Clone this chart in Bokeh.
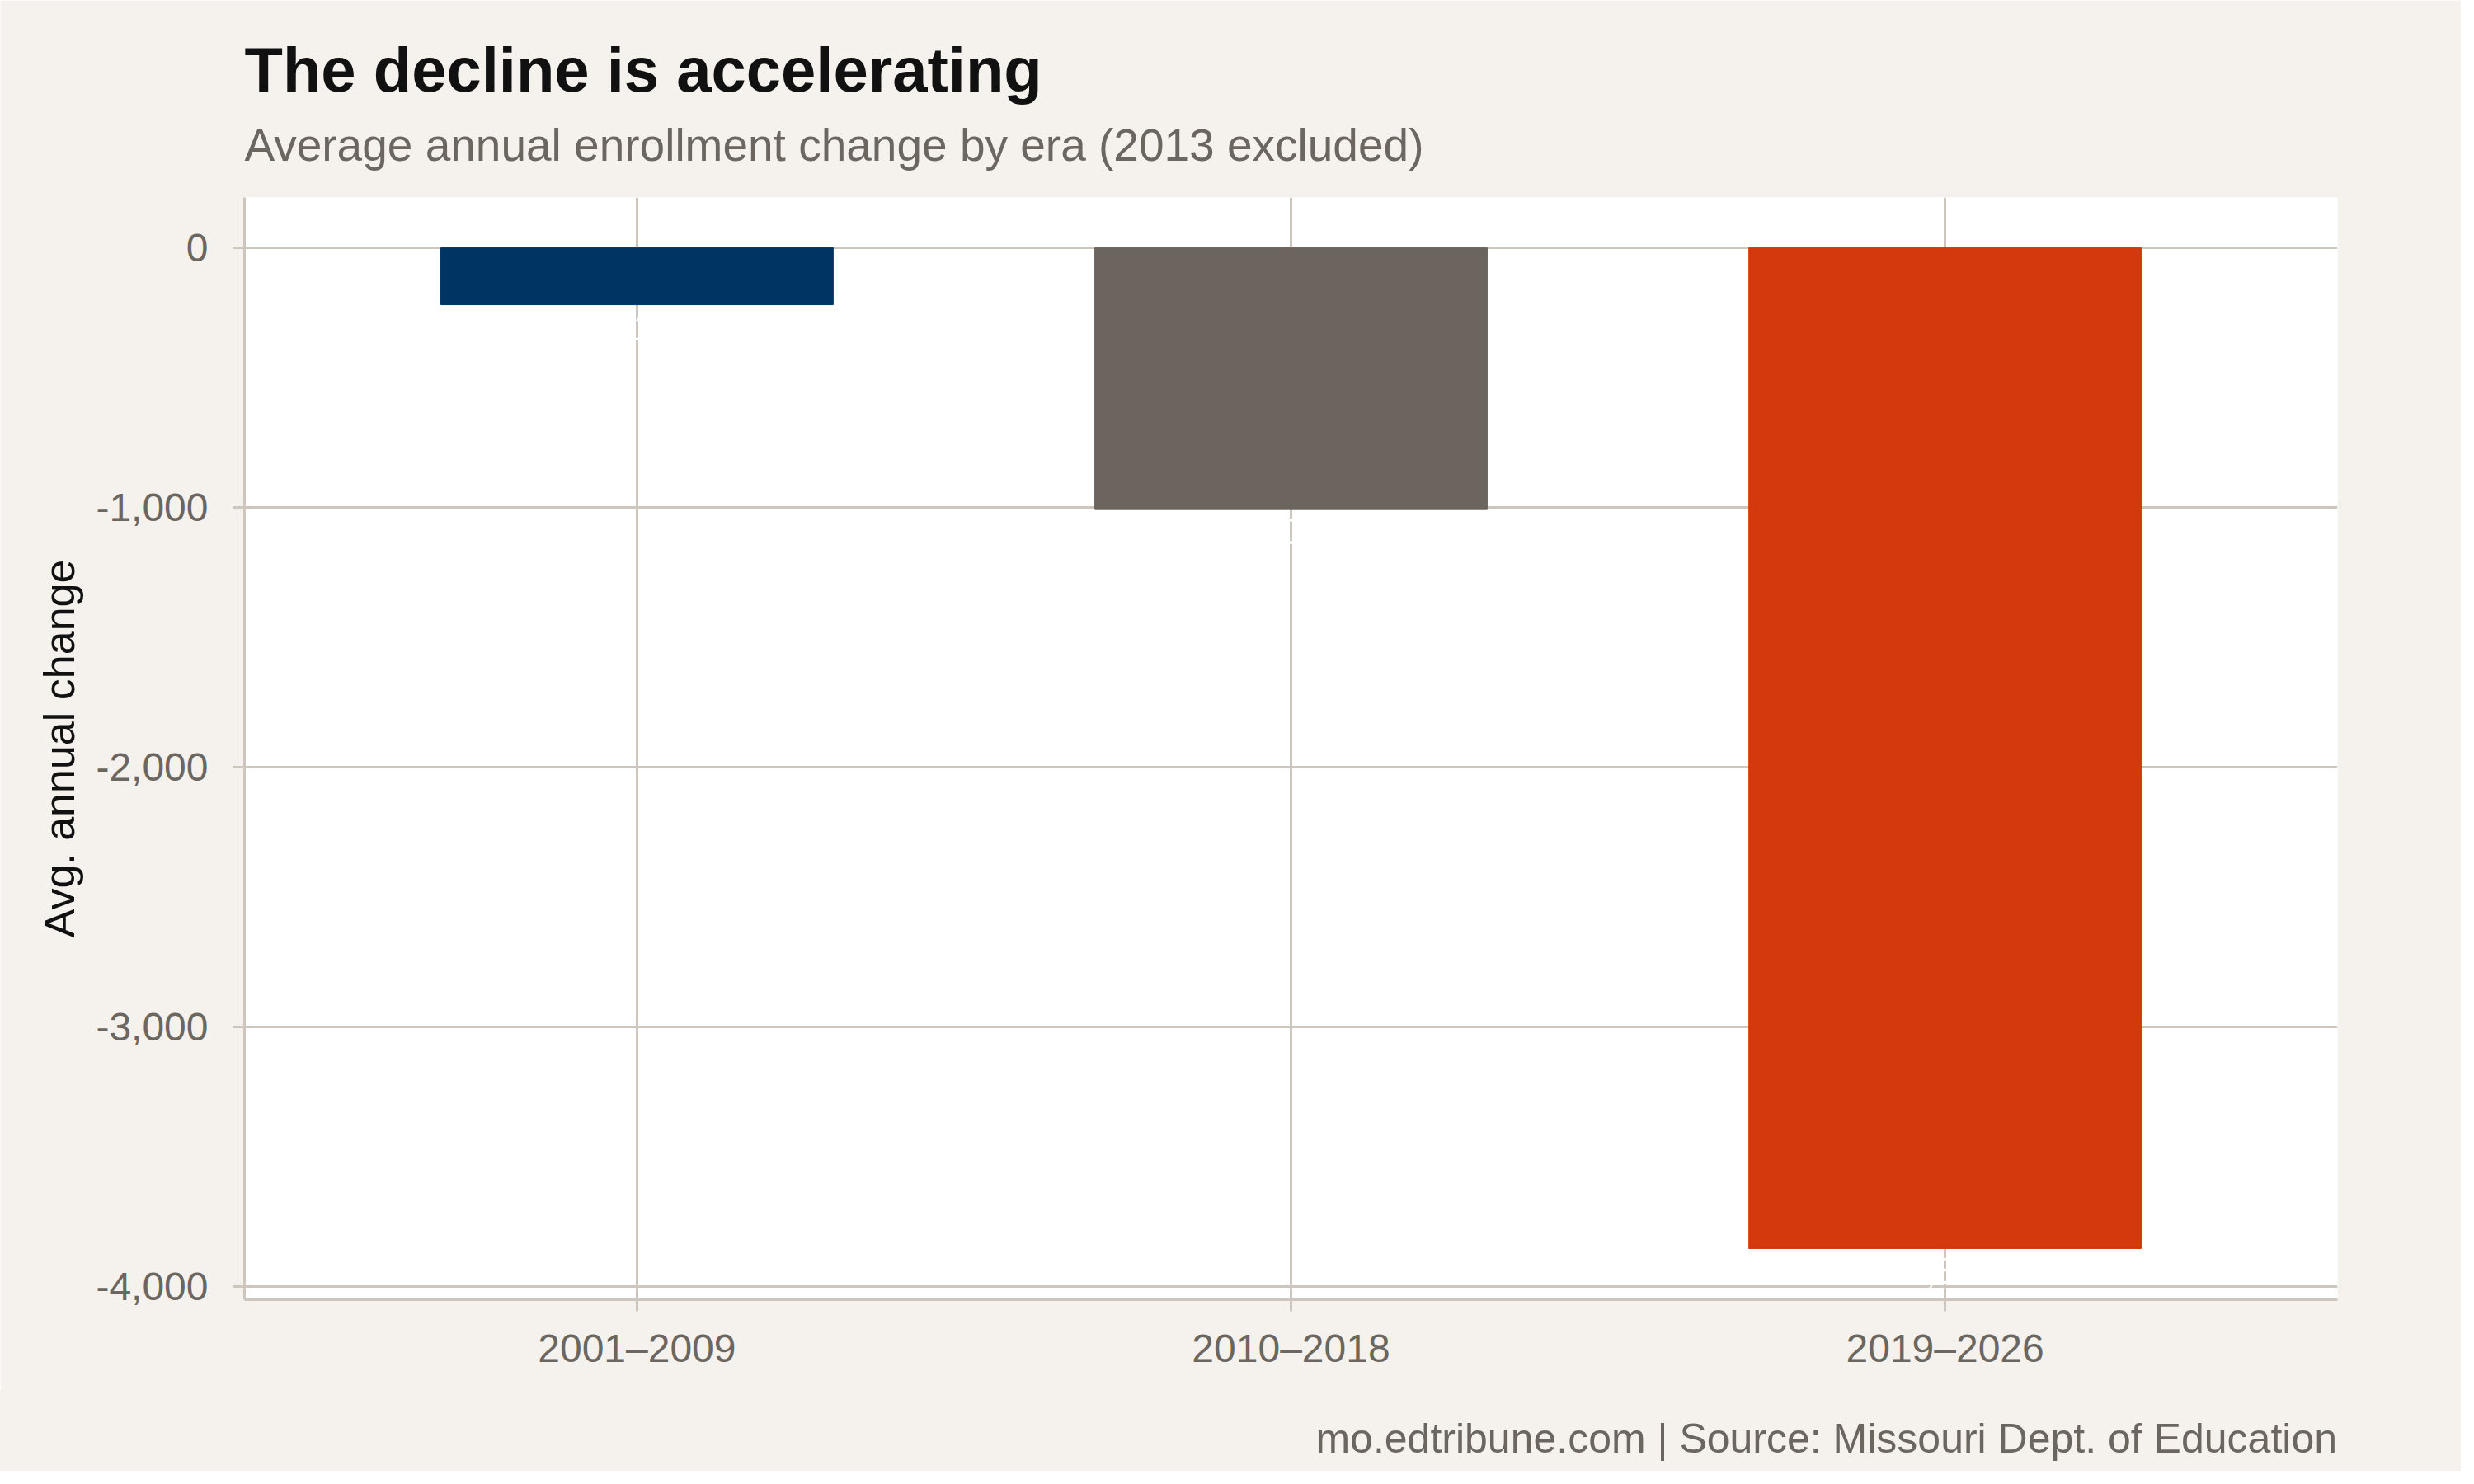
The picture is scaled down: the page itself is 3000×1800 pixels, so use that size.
#===========================
#       Bokeh-Related Imports
from bokeh.core.properties import value
from bokeh.embed import file_html
from bokeh.layouts import column
from bokeh.models import (ColumnDataSource, Div, FixedTicker,
                          NumeralTickFormatter, Range1d, Title)
from bokeh.plotting import figure
from bokeh.resources import INLINE

#-- chart data
eras = ["2001\u20132009", "2010\u20132018", "2019\u20132026"]
avg_change = [-219, -1005, -3854]
bar_colors = ["#003462", "#6b655e", "#d4390d"]
y_ticks = [-4000, -3000, -2000, -1000, 0]

title_text = "The decline is accelerating"
subtitle_text = "Average annual enrollment change by era (2013 excluded)"
caption_text = "mo.edtribune.com | Source: Missouri Dept. of Education"

#-- styling
FONT = "Liberation Sans"
BG = "#f5f2ed"
GRID = "#ccc6bc"
GREY_TEXT = "#6b665f"

positions = list(range(1, len(eras) + 1))
source = ColumnDataSource(data=dict(
    x=positions,
    change=avg_change,
    color=bar_colors,
    label=[f"{v:,}" for v in avg_change],
))

p = figure(
    width=2984,
    height=1686,
    x_range=Range1d(0.4, 3.6),
    y_range=Range1d(-4051, 194),
    output_backend="svg",
    toolbar_location=None,
    min_border_left=296,
    min_border_right=150,
    min_border_top=239,
    min_border_bottom=110,
)

#-- bars and (white) value labels
p.vbar(x="x", top="change", bottom=0, width=0.6, color="color", source=source)
p.text(x="x", y="change", text="label", source=source,
       text_color="white", text_font=value(FONT), text_font_size="44px",
       text_align="center", text_baseline="top", y_offset=12)

#-- frame / background
p.background_fill_color = "white"
p.border_fill_color = BG
p.outline_line_color = None

#-- grid
p.xgrid.ticker = FixedTicker(ticks=positions)
p.ygrid.ticker = FixedTicker(ticks=y_ticks)
for g in (p.xgrid, p.ygrid):
    g.grid_line_color = GRID
    g.grid_line_width = 3

#-- axes
p.xaxis.ticker = FixedTicker(ticks=positions)
p.xaxis.major_label_overrides = {pos: era for pos, era in zip(positions, eras)}
p.yaxis.ticker = FixedTicker(ticks=y_ticks)
p.yaxis.formatter = NumeralTickFormatter(format="0,0")

for ax in (p.xaxis, p.yaxis):
    ax.axis_line_color = GRID
    ax.axis_line_width = 3
    ax.major_tick_line_color = GRID
    ax.major_tick_line_width = 3
    ax.major_tick_out = 14
    ax.major_tick_in = 0
    ax.minor_tick_line_color = None
    ax.major_label_text_font = FONT
    ax.major_label_text_font_size = "48px"
    ax.major_label_text_color = GREY_TEXT

p.xaxis.major_label_standoff = 18
p.yaxis.major_label_standoff = 30

p.yaxis.axis_label = "Avg. annual change"
p.yaxis.axis_label_text_font = FONT
p.yaxis.axis_label_text_font_size = "52px"
p.yaxis.axis_label_text_font_style = "normal"
p.yaxis.axis_label_text_color = "#111111"
p.yaxis.axis_label_standoff = 12

#-- subtitle first (nearest the frame), then title above it
p.add_layout(Title(text=subtitle_text, text_font=FONT, text_font_size="55px",
                   text_font_style="normal", text_color=GREY_TEXT,
                   align="left", standoff=66), "above")
p.add_layout(Title(text=title_text, text_font=FONT, text_font_size="76px",
                   text_font_style="bold", text_color="#111111",
                   align="left", standoff=-34), "above")

#-- caption strip under the figure, right aligned with the frame
caption = Div(
    text=(f'<div style="width:2834px; text-align:right; font-family:{FONT}; '
          f'font-size:50px; line-height:50px; color:{GREY_TEXT}; '
          f'padding-top:34px;">{caption_text}</div>'),
    width=2984,
    height=98,
    margin=(0, 0, 0, 0),
    styles={"background-color": BG},
)

layout = column(p, caption, spacing=0)

open("out.html", "w").write(file_html(layout, INLINE))
